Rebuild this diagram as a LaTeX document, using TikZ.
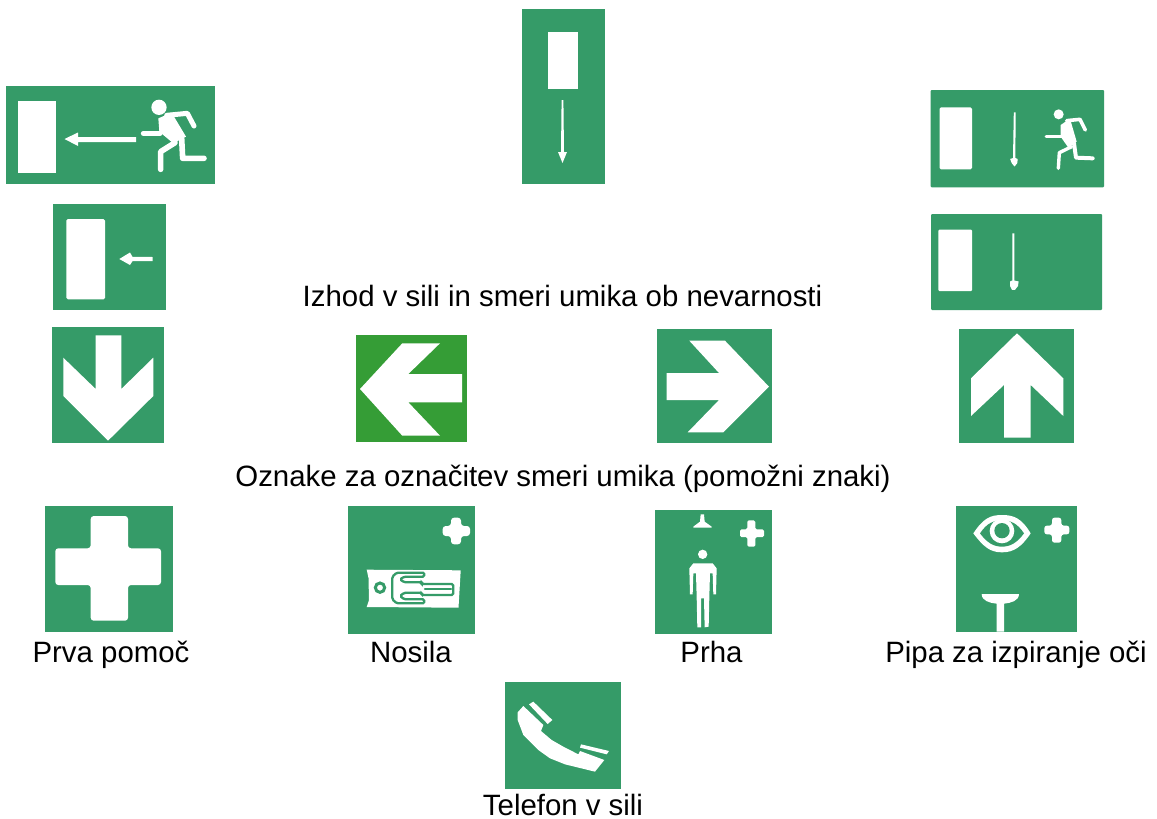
\documentclass[tikz,border=0pt]{standalone}
\usepackage{fontspec}
\setmainfont{Liberation Sans}
\definecolor{signgreen}{HTML}{359B68}
\definecolor{brightgreen}{HTML}{359D36}
\tikzset{
  sign/.style={fill=signgreen},
  sym/.style={fill=white},
  wline/.style={draw=white,line cap=round,line join=round},
  gline/.style={draw=signgreen,line width=2.3pt,line cap=round,rounded corners=1.5pt},
  softcross/.style={fill=white,rounded corners=1.5pt},
  caption/.style={anchor=base,inner sep=0pt,font=\fontsize{29.4pt}{33pt}\selectfont}
}
\begin{document}
\begin{tikzpicture}[x=1pt,y=-1pt]
\path[use as bounding box,fill=white] (0,0) rectangle (1157,819);

% --- big exit sign, left
\fill[sign] (6,86) rectangle (215,184);
\fill[sym] (18,101) rectangle (56,173);
\fill[sym] (64.5,139) -- (78,132.5) -- (78,137) -- (136,137) -- (136,142) -- (78,142) -- (78,146) -- cycle;
\begin{scope}[shift={(130,90)},scale=1/3]
  \fill[sym] (87,52) circle (23);
  \fill[sym] (85,85) -- (125,68) -- (168,140) -- (130,160) -- (88,125) -- cycle;
  \draw[wline,line width=5pt] (40,130) -- (90,130);
  \draw[wline,line width=5pt] (110,76) -- (172,70) -- (192,108);
  \draw[wline,line width=5.6pt] (155,145) -- (158,205) -- (222,205);
  \draw[wline,line width=5.6pt] (135,158) -- (92,185) -- (92,238);
\end{scope}

% --- tall sign, top centre
\fill[sign] (521.6,9.3) rectangle (604.6,184);
\fill[sym] (548,31.7) rectangle (578,89);
\fill[sym] (561.6,100) -- (563.4,100) -- (564,152) -- (567,152) -- (562.5,163) -- (558,152) -- (561,152) -- cycle;

% --- exit sign with runner, right
\fill[sign,rounded corners=1pt] (930.7,90) rectangle (1104,187.3);
\fill[sym,rounded corners=1.5pt] (939.5,107.3) rectangle (972,169.3);
\fill[sym] (1013.8,112.3) -- (1015.6,112.3) -- (1015.4,158) -- (1017.6,159) -- (1017.4,163) -- (1014.5,166.5) -- (1011.6,163) -- (1010.2,159) -- (1013,158) -- cycle;
\begin{scope}[shift={(900,80)},scale=1/3]
  \fill[sym] (476,103) circle (15);
  \fill[sym] (482,135) -- (510,116) -- (530,185) -- (505,203) -- (482,170) -- cycle;
  \draw[wline,line width=3pt] (438,170) -- (485,170);
  \draw[wline,line width=3.6pt] (500,122) -- (540,118) -- (556,150);
  \draw[wline,line width=4pt] (522,190) -- (528,233) -- (578,235);
  \draw[wline,line width=3.4pt] (515,200) -- (478,218) -- (475,265);
\end{scope}

% --- exit sign, right lower
\fill[sign,rounded corners=1pt] (931,214) rectangle (1102,310);
\fill[sym,rounded corners=1pt] (938.3,229.7) rectangle (972,291);
\fill[sym] (1012.3,233.3) -- (1014.3,233.3) -- (1014.3,280.5) -- (1018.6,281.5) -- (1018,286) -- (1015,289.8) -- (1012,289.8) -- (1010,286) -- (1010,281.5) -- (1012.3,280.5) -- cycle;

% --- small exit sign, left
\fill[sign] (52.5,204.3) rectangle (166,310.3);
\fill[sym,rounded corners=1.5pt] (66.4,219) rectangle (105,299.3);
\fill[sym] (119.3,259) -- (130,252.5) -- (132.5,256.8) -- (152.5,257) -- (152.5,261) -- (132.5,261.2) -- (130,265) -- cycle;

% --- arrow signs
\fill[sign] (52.3,327.3) rectangle (164.3,442.7);
\fill[sym] (95.7,335.3) -- (121.3,335.3) -- (121.3,389) -- (153.3,357.7) -- (153.3,396) -- (108,440.7) -- (63.3,396) -- (63.3,357.7) -- (95.7,389) -- cycle;

\fill[brightgreen] (356,335) rectangle (467,442);
\fill[sym] (360,389) -- (402.3,343.3) -- (440,343.3) -- (408.3,374) -- (462,374) -- (462,402.3) -- (408.3,402.3) -- (440,435.7) -- (402.3,435.7) -- cycle;

\fill[sign] (656.7,329.3) rectangle (772,442.7);
\fill[sym] (666.7,373) -- (719,373) -- (689.3,340.7) -- (725,340.7) -- (769,386.7) -- (723.3,432.3) -- (687.7,432.3) -- (719,400) -- (666.7,400) -- cycle;

\fill[sign] (959.3,329.3) rectangle (1074,442.7);
\fill[sym] (1017,333.3) -- (1063.3,378.3) -- (1063.3,416) -- (1030.7,385) -- (1030.7,437.7) -- (1004,437.7) -- (1004,385) -- (971,416) -- (971,378.3) -- cycle;

% --- first aid
\fill[sign] (45,506) rectangle (173,631.7);
\fill[softcross,rounded corners=3pt] (90.7,516) -- (128,516) -- (128,548.3) -- (161,548.3) -- (161,585) -- (128,585) -- (128,620.7) -- (90.7,620.7) -- (90.7,585) -- (55.3,585) -- (55.3,548.3) -- (90.7,548.3) -- cycle;

% --- stretcher
\fill[sign] (348,506) rectangle (475,633.7);
\fill[softcross,rounded corners=3pt] (451,517.7) -- (461,517.7) -- (461,526) -- (470,526) -- (470,536) -- (461,536) -- (461,544.3) -- (451,544.3) -- (451,536) -- (442.7,536) -- (442.7,526) -- (451,526) -- cycle;
\fill[sym] (366.7,569.7) -- (460.7,570.3) -- (458.5,607.7) -- (366.7,607) -- (369,600) -- (368.5,578) -- cycle;
\begin{scope}[shift={(365,560)},scale=1/3]
  \draw[gline,line width=3pt] (45,83) circle (14);
  \draw[gline] (178,38) -- (95,38) -- (82,50) -- (82,118) -- (95,130) -- (178,130) -- (178,118) -- (118,118) -- (105,108) -- (118,98) -- (170,98) -- (170,105) -- (265,105) -- (265,72) -- (170,72) -- (170,67) -- (118,67) -- (105,58) -- (118,50) -- (178,50) -- cycle;
  \draw[gline] (180,88) -- (258,88);
\end{scope}

% --- shower
\fill[sign] (655,510) rectangle (772,633.7);
\begin{scope}[shift={(330,495)},scale=1/3]
  \fill[sym] (1112,58) -- (1122,58) -- (1124,80) -- (1145,95) -- (1145,98) -- (1090,98) -- (1090,95) -- (1110,80) -- cycle;
  \fill[softcross] (1252,76) -- (1276,76) -- (1276,103) -- (1302,103) -- (1302,126) -- (1276,126) -- (1276,155) -- (1252,155) -- (1252,126) -- (1230,126) -- (1230,103) -- (1252,103) -- cycle;
  \fill[sym] (1118,178) circle (14);
  \fill[sym] (1090,205) -- (1148,205) -- (1160,220) -- (1158,298) -- (1150,298) -- (1148,235) -- (1140,235) -- (1138,305) -- (1136,395) -- (1124,397) -- (1122,310) -- (1113,310) -- (1113,397) -- (1102,397) -- (1100,305) -- (1098,235) -- (1090,235) -- (1088,298) -- (1080,298) -- (1078,220) -- cycle;
\end{scope}

% --- eye wash
\fill[sign] (956,506) rectangle (1077,631.7);
\begin{scope}[shift={(940,495)},scale=1/3]
  \fill[sym] (100,115) .. controls (130,70) and (150,60) .. (186,60) .. controls (222,60) and (245,70) .. (272,115) .. controls (245,155) and (222,172) .. (186,172) .. controls (150,172) and (130,155) .. (100,115) -- cycle;
  \fill[sign] (120,115) .. controls (140,85) and (160,76) .. (186,76) .. controls (212,76) and (232,85) .. (252,115) .. controls (232,142) and (212,155) .. (186,155) .. controls (160,155) and (140,142) .. (120,115) -- cycle;
  \fill[sym] (186,108) circle (37);
  \fill[sign] (186,107) circle (23);
  \fill[softcross,rounded corners=2.5pt] (336,68) -- (364,68) -- (364,92) -- (388,92) -- (388,118) -- (364,118) -- (364,143) -- (336,143) -- (336,118) -- (313,118) -- (313,92) -- (336,92) -- cycle;
  \fill[sym] (125,297) -- (237,297) .. controls (237,318) and (212,324) .. (192,326) -- (192,410) -- (170,410) -- (170,326) .. controls (150,324) and (125,318) .. (125,297) -- cycle;
\end{scope}

% --- telephone
\fill[sign] (505,681.7) rectangle (621,789);
\begin{scope}[shift={(495,675)},scale=1/3]
  \fill[sym] (85,93) -- (68,112) -- (68,135) -- (85,180) -- (130,225) -- (165,250) -- (210,268) -- (300,290) -- (328,255) -- (255,228) -- (250,238) -- (205,215) -- (170,195) -- (138,168) -- (145,150) -- cycle;
  \fill[sym] (102,88) -- (115,80) -- (172,135) -- (158,147) -- cycle;
  \fill[sym] (258,208) -- (342,228) -- (335,238) -- (255,218) -- cycle;
\end{scope}

% --- captions
\node[caption] (exits) at (562.5,306) {Izhod v sili in smeri umika ob nevarnosti};
\node[caption] (aux) at (563,486) {Oznake za označitev smeri umika (pomožni znaki)};
\node[caption] (aid) at (111,662) {Prva pomoč};
\node[caption] (stretcher) at (411,662) {Nosila};
\node[caption] (shower) at (711.5,662) {Prha};
\node[caption] (eyewash) at (1016,662) {Pipa za izpiranje oči};
\node[caption] (phone) at (563,815) {Telefon v sili};
\end{tikzpicture}
\end{document}
